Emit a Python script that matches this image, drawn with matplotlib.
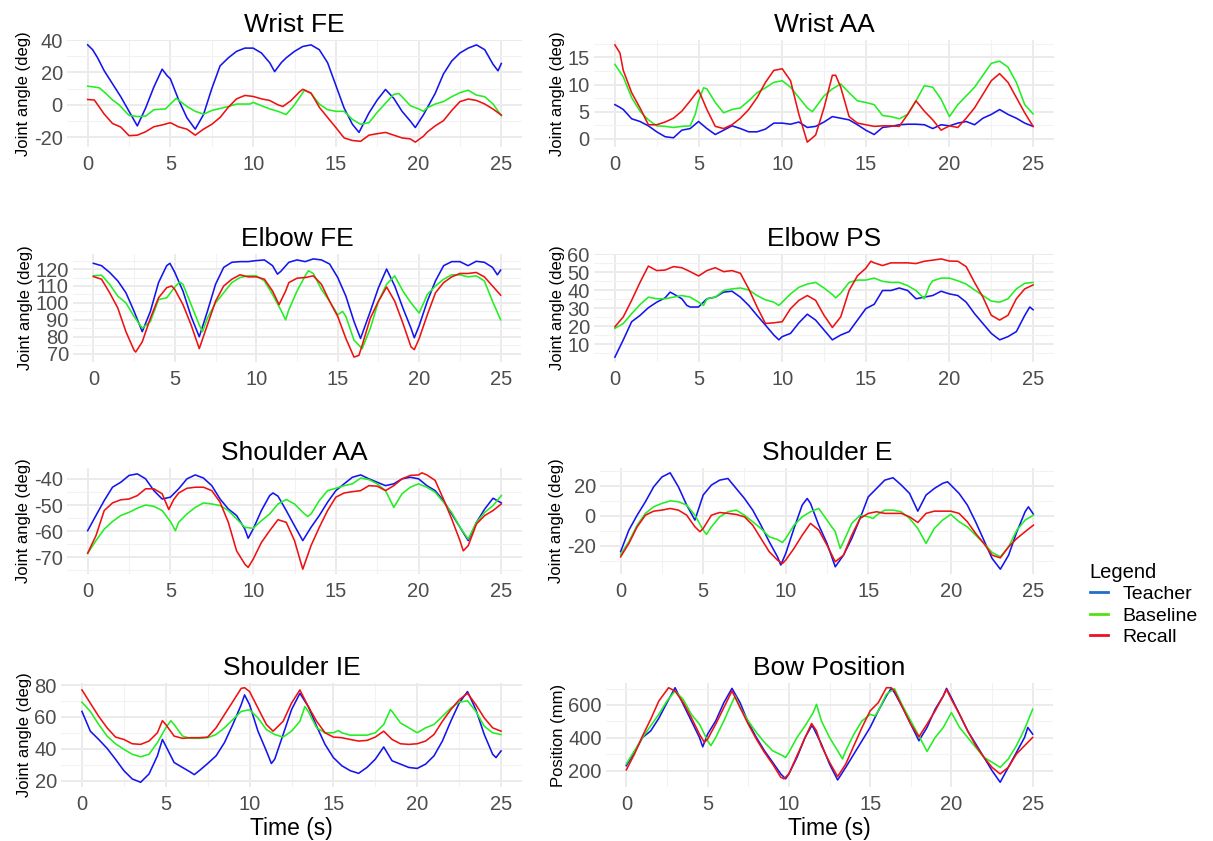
import matplotlib
matplotlib.use("Agg")
import matplotlib.pyplot as plt
from matplotlib.ticker import MultipleLocator
from matplotlib.lines import Line2D

plt.rcParams['font.family'] = ['Liberation Sans', 'DejaVu Sans']
plt.rcParams['axes.unicode_minus'] = False

# (time s, value) pairs
wrist_fe_teacher = [(0, 37), (0.3, 34), (0.6, 29), (1, 21), (1.5, 13), (2, 5), (2.5, -4), (3, -13), (3.5, -2),
                    (4, 11), (4.5, 22), (4.8, 18), (5, 16), (5.5, 3), (6, -8), (6.5, -15), (7, -6), (7.5, 10),
                    (8, 24), (8.5, 29), (9, 33), (9.5, 35), (10, 35), (10.5, 32), (11, 26), (11.3, 20.5),
                    (11.7, 26), (12, 29), (12.5, 33), (13, 36), (13.5, 37), (14, 34), (14.5, 26), (15, 12),
                    (15.5, -2), (16, -12), (16.4, -17), (17, -5), (17.5, 3), (18, 9.5), (18.5, 4), (19, -4),
                    (19.5, -10), (19.8, -14), (20.3, -6), (21, 7), (21.5, 19), (22, 27), (22.5, 32), (23, 35),
                    (23.5, 37), (24, 34), (24.5, 25), (24.8, 21), (25, 25.5)]
wrist_fe_baseline = [(0, 11.5), (0.4, 11), (0.7, 10.5), (1.1, 7), (1.5, 3), (1.9, 0), (2.5, -6.5), (3, -7.2),
                     (3.5, -7), (4, -3), (4.7, -2.5), (5.35, 4), (6, -1), (6.5, -4), (7, -5.7), (7.5, -3.5),
                     (8.5, -1), (9, 0.5), (9.8, 0.5), (10, 1.5), (10.5, -0.5), (11, -2.5), (11.5, -4), (12, -6),
                     (12.5, 0), (13.1, 9), (13.5, 7), (14, 0.5), (14.5, -3), (15, -4), (15.5, -4), (16, -9),
                     (16.5, -12), (17, -11), (17.5, -4.6), (18, 1), (18.5, 6.5), (18.8, 7), (19, 5), (19.5, -0.5),
                     (20, -2.5), (20.3, -4), (20.5, -2), (21, 0.5), (21.5, 2), (22, 5), (22.5, 7.5), (23, 9),
                     (23.5, 6), (24, 5), (24.5, 0.5), (25, -6.7)]
wrist_fe_recall = [(0, 3.3), (0.4, 3), (1, -5.7), (1.5, -11.5), (2, -13.7), (2.5, -19), (3, -18.7), (3.5, -16.6),
                   (4, -13.5), (4.5, -12.4), (5, -11), (5.5, -13.6), (6, -15), (6.5, -18.7), (7, -15), (7.5, -12),
                   (8, -7.8), (8.5, -1.5), (9, 3.7), (9.5, 5.8), (10, 5.2), (10.5, 3.7), (11, 2.7), (11.5, 0),
                   (11.8, -1), (12.3, 2.7), (12.8, 8), (13, 9.6), (13.5, 7.3), (14, -1.5), (14.5, -7.8), (15, -14),
                   (15.5, -20.4), (16, -22), (16.5, -22.5), (17, -18.7), (17.5, -17.8), (18, -17), (18.5, -18.7),
                   (19, -20.4), (19.5, -21), (19.8, -23), (20.3, -19.3), (20.5, -17), (21, -13), (21.5, -9.8),
                   (22, -3.5), (22.5, 2), (23, 3.6), (23.5, 2.7), (24, 0.5), (24.5, -2.6), (25, -6.3)]

wrist_aa_teacher = [(0, 6.3), (0.3, 5.8), (0.5, 5.4), (1, 3.7), (1.5, 3.2), (2, 2.4), (2.5, 1.3), (3, 0.4),
                    (3.5, 0.2), (4, 1.6), (4.5, 1.9), (5, 3.2), (5.5, 1.9), (6, 0.8), (6.5, 1.6), (7, 2.4),
                    (7.5, 1.9), (8, 1.3), (8.5, 1.3), (9, 1.8), (9.5, 2.9), (10, 2.9), (10.5, 2.7), (11, 3.1),
                    (11.5, 2.1), (12, 2.3), (12.5, 3.1), (13, 4.1), (13.5, 3.8), (14, 3.5), (14.5, 2.6), (15, 1.6),
                    (15.5, 0.8), (16, 2.1), (16.5, 2.3), (17, 2.6), (17.5, 2.7), (18, 2.7), (18.5, 2.6), (19, 1.9),
                    (19.5, 2.6), (20, 2.4), (20.5, 2.9), (21, 3.2), (21.5, 2.6), (22, 3.8), (22.5, 4.5), (23, 5.4),
                    (23.5, 4.5), (24, 3.8), (24.5, 2.9), (25, 2.3)]
wrist_aa_baseline = [(0, 13.7), (0.5, 11.4), (1, 7.6), (1.5, 5.1), (2, 3.5), (2.5, 2.4), (3, 2.3), (3.5, 2.1),
                     (4, 2.3), (4.5, 2.4), (4.8, 4.5), (5, 7), (5.3, 9.4), (5.5, 9.2), (6, 6.7), (6.5, 4.8),
                     (7, 5.4), (7.5, 5.7), (8, 7), (8.5, 8.5), (9, 9.4), (9.5, 10.4), (10, 10.7), (10.5, 9.5),
                     (11, 7.6), (11.5, 5.7), (11.8, 5), (12, 5.8), (12.5, 7.9), (13, 9.2), (13.5, 10.1), (14, 8.5),
                     (14.5, 7), (15, 6.7), (15.5, 6.3), (16, 4.3), (16.5, 4.1), (17, 3.7), (17.5, 4.5), (18, 7),
                     (18.5, 9.8), (19, 9.5), (19.5, 7.3), (20, 4.1), (20.5, 6.3), (21, 7.9), (21.5, 9.5),
                     (22, 11.7), (22.5, 13.9), (23, 14.3), (23.5, 13.2), (24, 10.4), (24.5, 6.3), (25, 4.6)]
wrist_aa_recall = [(0, 17.3), (0.3, 15.8), (0.5, 12.6), (1, 8.5), (1.5, 5.7), (2, 2.6), (2.5, 2.6), (3, 3.1),
                   (3.5, 3.8), (4, 5.1), (4.5, 7), (5, 9), (5.5, 5.4), (6, 2.3), (6.5, 1.9), (7, 2.6), (7.5, 3.8),
                   (8, 5.4), (8.5, 7.6), (9, 10.4), (9.5, 12.6), (10, 12.9), (10.5, 10.7), (11, 4.5), (11.5, -0.6),
                   (12, 0.7), (12.5, 5.7), (13, 11.7), (13.2, 11.7), (13.5, 9.5), (14, 4.1), (14.5, 2.9), (15, 2.6),
                   (15.5, 2.3), (16, 2.4), (16.5, 2.4), (17, 2.3), (17.5, 4.5), (18, 7), (18.5, 5.1), (19, 3.5),
                   (19.5, 1.6), (20, 2.4), (20.5, 2.1), (21, 3.8), (21.5, 5.7), (22, 8.2), (22.5, 10.7), (23, 12),
                   (23.5, 10.4), (24, 7.6), (24.5, 4.8), (25, 2.3)]

elbow_fe_teacher = [(0, 123.4), (0.5, 122), (1, 118), (1.5, 113), (2, 106), (2.5, 95), (3, 83), (3.5, 95),
                    (4, 112), (4.5, 122), (4.7, 123.4), (5, 118), (5.5, 107), (6, 92), (6.5, 80), (7, 95),
                    (7.5, 111), (8, 121), (8.5, 124), (9, 124.4), (9.5, 124.4), (10, 125), (10.5, 125.4), (11, 122),
                    (11.3, 117), (11.5, 118.6), (12, 124), (12.5, 125.4), (13, 124.4), (13.5, 126), (14, 125.4),
                    (14.5, 123), (15, 115), (15.5, 104), (16, 89), (16.4, 79), (17, 95), (17.5, 109), (18, 120),
                    (18.5, 110), (19, 97), (19.5, 85), (19.7, 79.4), (20, 86.6), (20.5, 101), (21, 113), (21.5, 122),
                    (22, 124.4), (22.5, 124.4), (23, 122), (23.5, 124.6), (24, 124), (24.5, 121), (24.8, 116.6),
                    (25, 119.4)]
elbow_fe_baseline = [(0, 116), (0.5, 116.4), (1, 111), (1.5, 104), (2, 100), (2.5, 92), (3, 85), (3.5, 89),
                     (4, 102), (4.5, 103), (5, 109.4), (5.3, 112.4), (5.5, 111), (6, 99), (6.5, 87), (6.7, 83),
                     (7, 91), (7.5, 100), (8, 106), (8.5, 112), (9, 115), (9.5, 116), (10, 116), (10.5, 113),
                     (11, 105), (11.5, 96), (11.8, 90), (12, 96), (12.5, 107), (13, 116), (13.2, 119), (13.5, 117.4),
                     (14, 108), (14.5, 101), (15, 93), (15.3, 95), (15.5, 92), (16, 78), (16.5, 73), (17, 85),
                     (17.5, 101), (18, 111), (18.5, 116), (19, 107), (19.5, 100), (20, 94), (20.5, 105), (21, 110),
                     (21.5, 114), (22, 116.6), (22.5, 116.6), (23, 115.4), (23.5, 116), (24, 113), (24.5, 101),
                     (25, 90)]
elbow_fe_recall = [(0, 115.6), (0.5, 114), (1, 106), (1.5, 97), (2, 83), (2.5, 72), (2.6, 71), (3, 77), (3.5, 91),
                   (4, 103), (4.5, 109), (4.8, 110), (5, 108), (5.5, 99), (6, 87), (6.5, 73), (7, 87), (7.5, 101),
                   (8, 110), (8.5, 114), (9, 116.6), (9.5, 115.4), (10, 115.4), (10.5, 114), (11, 107), (11.4, 99),
                   (11.8, 107), (12, 112), (12.5, 114.6), (13, 115), (13.5, 116), (14, 111), (14.5, 101), (15, 92),
                   (15.5, 79), (16, 68), (16.3, 69), (16.5, 75), (17, 91), (17.5, 101), (18, 109.4), (18.5, 101),
                   (19, 88), (19.5, 74), (19.7, 72.4), (20, 79), (20.5, 93), (21, 106), (21.5, 112), (22, 115.4),
                   (22.5, 117.4), (23, 117.4), (23.5, 118), (24, 115.4), (24.5, 110), (25, 104.6)]

elbow_ps_teacher = [(0, 2.8), (0.5, 12.4), (1, 22.5), (1.5, 26), (2, 30.3), (2.5, 33.4), (3, 35.8), (3.3, 39),
                    (3.5, 38), (4, 35.3), (4.3, 31.6), (4.5, 30.7), (5, 30.7), (5.5, 35.3), (6, 36.2), (6.5, 39),
                    (7, 39.5), (7.5, 36.2), (8, 31.6), (8.5, 26), (9, 20.6), (9.5, 15.1), (9.8, 12.4), (10, 14.2),
                    (10.5, 16), (11, 21.9), (11.5, 26.7), (12, 23.4), (12.5, 17.9), (13, 12.4), (13.5, 15.1),
                    (14, 17), (14.5, 23.4), (15, 29.8), (15.5, 32.2), (16, 39.9), (16.5, 39.9), (17, 41.3),
                    (17.5, 39.9), (18, 35.3), (18.5, 36.2), (19, 37.1), (19.5, 39.5), (20, 38), (20.5, 37.1),
                    (21, 33.4), (21.5, 27), (22, 21.5), (22.5, 16), (23, 12.4), (23.5, 14.2), (24, 17), (24.5, 26),
                    (24.8, 30.7), (25, 29.2)]
elbow_ps_baseline = [(0, 18.8), (0.5, 21.5), (1, 27), (1.5, 32), (2, 36.2), (2.5, 35.3), (3, 35.3), (3.5, 36.2),
                     (4, 37.1), (4.5, 36.2), (5, 33.4), (5.3, 31.6), (5.5, 35.3), (6, 36.2), (6.5, 39.9), (7, 40.8),
                     (7.5, 41.3), (8, 40.2), (8.5, 37.1), (9, 34.7), (9.5, 33.4), (9.8, 31.6), (10, 33.4),
                     (10.5, 38), (11, 41.7), (11.5, 43.5), (12, 44.4), (12.5, 41.3), (13, 37.7), (13.2, 35.8),
                     (13.5, 38.4), (14, 44.4), (14.5, 45.7), (15, 45.7), (15.5, 46.8), (16, 45), (16.5, 44.4),
                     (17, 44.4), (17.5, 42.6), (18, 39.9), (18.5, 35.3), (18.8, 42.6), (19, 45.3), (19.5, 46.8),
                     (20, 46.8), (20.5, 45.3), (21, 43.5), (21.5, 40.2), (22, 37.1), (22.5, 34), (23, 33.4),
                     (23.5, 35.3), (24, 40.8), (24.5, 43.9), (25, 44.4)]
elbow_ps_recall = [(0, 19.7), (0.5, 25.2), (1, 34.4), (1.5, 44.4), (2, 53.5), (2.5, 51), (3, 51.3), (3.5, 53.2),
                   (4, 52.6), (4.5, 50.4), (5, 48), (5.5, 51), (6, 52.6), (6.5, 50.4), (7, 51), (7.5, 49.5),
                   (8, 40.8), (8.5, 30.7), (9, 21.5), (9.5, 21.9), (10, 22.5), (10.5, 29.8), (11, 34.4), (11.5, 37.1),
                   (12, 34.4), (12.5, 26.1), (13, 19.3), (13.5, 25.2), (14, 39.9), (14.5, 48.1), (15, 52.3),
                   (15.3, 56.2), (15.5, 55.3), (16, 53.8), (16.5, 55.3), (17, 55.3), (17.5, 55.3), (18, 54.9),
                   (18.5, 56.2), (19, 56.8), (19.5, 57.5), (20, 56.3), (20.5, 56.2), (21, 53.2), (21.5, 44.4),
                   (22, 36.2), (22.5, 26.1), (23, 23.4), (23.5, 26.1), (24, 35.3), (24.5, 40.8), (25, 43)]

shoulder_aa_teacher = [(0, -59.8), (0.5, -54), (1, -48.3), (1.5, -43.2), (2, -41.3), (2.5, -38.7), (3, -38.1),
                       (3.5, -40), (4, -44.5), (4.5, -47.7), (5, -47), (5.5, -43.8), (6, -40), (6.5, -38.5),
                       (7, -39.7), (7.5, -42.6), (8, -47.7), (8.5, -51.5), (9, -54), (9.5, -59.2), (9.7, -62.7),
                       (10, -59.2), (10.5, -52.1), (11, -46.4), (11.2, -45.4), (11.5, -46.6), (12, -52.1),
                       (12.5, -57.9), (13, -63.6), (13.5, -58.5), (14, -54), (14.5, -48.9), (15, -44.5),
                       (15.5, -41.9), (16, -39.4), (16.5, -38.5), (17, -40), (17.5, -41.3), (18, -42.6),
                       (18.5, -41.9), (19, -40), (19.5, -39.4), (20, -40), (20.5, -42.6), (21, -44.5), (21.5, -48.3),
                       (22, -53.4), (22.5, -58.5), (23, -63.6), (23.5, -56.6), (24, -51.5), (24.5, -47.4),
                       (25, -49.2)]
shoulder_aa_baseline = [(0, -68.4), (0.5, -63.6), (1, -59.2), (1.5, -56.3), (2, -54), (2.5, -52.8), (3, -51.2),
                        (3.5, -50), (4, -50.5), (4.5, -52.1), (5, -56.3), (5.3, -59.8), (5.5, -56.6), (6, -53.4),
                        (6.5, -50.9), (7, -49.2), (7.5, -49.6), (8, -50.2), (8.5, -52.1), (9, -55.3), (9.5, -58.5),
                        (10, -58.9), (10.5, -56), (11, -53.4), (11.5, -49.6), (12, -47.9), (12.5, -49.6),
                        (13, -52.8), (13.3, -54.4), (13.5, -53.4), (14, -48.3), (14.5, -44.5), (15, -43.6),
                        (15.5, -42.6), (16, -41.9), (16.5, -39.7), (17, -40.3), (17.5, -41.9), (18, -44.5),
                        (18.5, -50.9), (19, -45.7), (19.5, -43.2), (20, -41.9), (20.5, -43.2), (21, -45.1),
                        (21.5, -48.9), (22, -52.8), (22.5, -58.5), (23, -63), (23.5, -56.6), (24, -52.8),
                        (24.5, -50.2), (25, -46.4)]
shoulder_aa_recall = [(0, -68.4), (0.5, -61.7), (1, -52.1), (1.5, -49.2), (2, -48), (2.5, -47.7), (3, -46.4),
                      (3.5, -43.8), (4, -43.8), (4.5, -45.7), (4.9, -51.7), (5.2, -47.9), (5.5, -45.4), (6, -43.6),
                      (6.5, -43.2), (7, -43.2), (7.5, -44.5), (8, -48.9), (8.5, -56.6), (9, -67.5), (9.5, -72.6),
                      (9.7, -73.8), (10, -70.7), (10.5, -64.3), (11, -59.8), (11.5, -55.6), (12, -56.6),
                      (12.5, -63.6), (13, -74.5), (13.5, -65.5), (14, -58.5), (14.5, -52.1), (15, -47),
                      (15.5, -45.4), (16, -44.9), (16.5, -44.5), (17, -42.6), (17.5, -42.8), (18, -44.5),
                      (18.5, -42.6), (19, -40), (19.5, -38.7), (20, -38.5), (20.2, -37.7), (20.5, -38.5),
                      (21, -40.6), (21.5, -47.7), (22, -55.3), (22.5, -63.6), (22.7, -67.5), (23, -65.5),
                      (23.5, -57.2), (24, -54), (24.5, -52.1), (25, -49.6)]

shoulder_e_teacher = [(0, -24), (0.5, -9.6), (1, 0.4), (1.5, 9.4), (2, 19.4), (2.5, 26), (3, 28.8), (3.5, 19.4),
                      (4, 7.2), (4.5, -2.9), (5, 13.9), (5.5, 20.6), (6, 23.9), (6.5, 25), (7, 18.3), (7.5, 11.6),
                      (8, 3.8), (8.5, -6.3), (9, -17.4), (9.5, -27.5), (9.7, -33), (10, -25.3), (10.5, -8.5),
                      (11, 7.2), (11.3, 11.6), (11.5, 8.3), (12, -6.3), (12.5, -18.5), (13, -34.2), (13.5, -26.4),
                      (14, -15.2), (14.5, -1.8), (15, 12.7), (15.5, 18.3), (16, 23.9), (16.5, 25.5), (17, 20.6),
                      (17.5, 15), (18, 3.1), (18.5, 13.9), (19, 18.3), (19.5, 21.7), (19.8, 22.8), (20, 20.6),
                      (20.5, 15), (21, 7.2), (21.5, -4), (22, -16.3), (22.5, -28.6), (23, -35.8), (23.5, -26.4),
                      (24, -10.7), (24.5, 2.7), (24.7, 6), (25, 1.1)]
shoulder_e_baseline = [(0, -26), (0.5, -17.4), (1, -6.3), (1.5, 1.6), (2, 6), (2.5, 8.3), (3, 10), (3.5, 9.4),
                       (4, 7.2), (4.5, 0.4), (5, -9.6), (5.2, -12.5), (5.5, -7.4), (6, -0.7), (6.5, 2.7), (7, 3.8),
                       (7.5, 0.4), (8, -4), (8.5, -8.5), (9, -14.1), (9.5, -15.9), (9.8, -17.9), (10, -15.2),
                       (10.5, -6.3), (11, -0.7), (11.5, 2.7), (12, 4.9), (12.5, -2.9), (13, -10.7), (13.3, -21.9),
                       (13.5, -17.4), (14, -5.1), (14.5, 0.4), (15, -0.7), (15.3, -1.8), (15.5, 0.4), (16, 3.8),
                       (16.5, 3.8), (17, 2.7), (17.5, -1.8), (18, -8.5), (18.5, -18.5), (19, -8.5), (19.5, -2.9),
                       (20, 0.9), (20.5, -4), (21, -7.4), (21.5, -13), (22, -18.5), (22.5, -24.6), (23, -27.5),
                       (23.5, -20.8), (24, -9.6), (24.5, -2.9), (25, 0.4)]
shoulder_e_recall = [(0, -27.5), (0.5, -18.5), (1, -7.4), (1.5, 0.4), (2, 3.1), (2.5, 3.8), (3, 4.9), (3.5, 3.8),
                     (4, 0.4), (4.5, -7.4), (4.8, -10.7), (5, -8.5), (5.5, 0.4), (6, 2.2), (6.5, 1.6), (7, 0.9),
                     (7.5, -0.7), (8, -6.3), (8.5, -15.2), (9, -24.1), (9.5, -29.7), (9.8, -32), (10, -29.7),
                     (10.5, -21.9), (11, -13), (11.5, -5.1), (12, -9.6), (12.5, -19.7), (13, -30.8), (13.5, -26.4),
                     (14, -13), (14.5, -1.8), (15, 1.6), (15.5, 2.7), (16, 1.6), (16.5, 1.6), (17, 1.6),
                     (17.5, -0.7), (18, -4.5), (18.5, 1.6), (19, 3.1), (19.5, 3.1), (20, 3.1), (20.5, 1.6), (21, -4),
                     (21.5, -11.8), (22, -18.5), (22.5, -26.4), (23, -28.2), (23.5, -20.8), (24, -15.2),
                     (24.5, -10.7), (25, -6.3)]

shoulder_ie_teacher = [(0, 63.4), (0.5, 51), (1, 45.8), (1.5, 40.2), (2, 33.4), (2.5, 26.2), (3, 21), (3.5, 18.9),
                       (4, 24.1), (4.5, 35.5), (4.8, 45.8), (5, 41.7), (5.5, 31.3), (6, 28.2), (6.5, 25.1),
                       (6.7, 23.7), (7, 26.2), (7.5, 30.7), (8, 35.5), (8.5, 43.8), (9, 55.2), (9.5, 67.6),
                       (9.7, 73.8), (10, 67.6), (10.5, 51), (11, 38.6), (11.3, 30.7), (11.5, 33.4), (12, 48.9),
                       (12.5, 64.5), (13, 74.8), (13.5, 66.5), (14, 54.1), (14.5, 42.7), (15, 34.4), (15.5, 29.3),
                       (16, 26.2), (16.5, 24.5), (17, 28.2), (17.5, 33.4), (18, 41.1), (18.5, 32.4), (19, 30.3),
                       (19.5, 28.2), (20, 27.6), (20.5, 30.3), (21, 35.5), (21.5, 44.8), (22, 57.2), (22.5, 68.6),
                       (23, 75.9), (23.5, 64.5), (24, 48.9), (24.5, 36.5), (24.7, 34.4), (25, 38.6)]
shoulder_ie_baseline = [(0, 69.2), (0.5, 63.4), (1, 55.2), (1.5, 47.9), (2, 43.1), (2.5, 39.6), (3, 36.5),
                        (3.5, 34.9), (4, 36.5), (4.5, 43.8), (5, 53.1), (5.3, 57.6), (5.5, 55.2), (6, 47.9),
                        (6.5, 46.5), (7, 46.5), (7.5, 46.9), (8, 48.9), (8.5, 53.1), (9, 58.3), (9.5, 63.4),
                        (10, 64.5), (10.5, 59.3), (11, 52), (11.5, 48.9), (12, 47.3), (12.5, 51), (13, 57.2),
                        (13.3, 66.5), (13.5, 63.4), (14, 53.1), (14.5, 50), (15, 50), (15.3, 51.4), (15.5, 50),
                        (16, 48.5), (16.5, 48.5), (17, 48.5), (17.5, 50), (18, 55.2), (18.4, 64.5), (18.5, 63.4),
                        (19, 56.2), (19.5, 53.1), (20, 50), (20.5, 53.1), (21, 55.2), (21.5, 60.3), (22, 65.5),
                        (22.5, 69.2), (23, 70.1), (23.5, 63.4), (24, 54.1), (24.5, 50), (25, 48.9)]
shoulder_ie_recall = [(0, 76.9), (0.5, 68.6), (1, 60.3), (1.5, 53.1), (2, 47.3), (2.5, 45.8), (3, 43.1),
                      (3.5, 42.7), (4, 44.8), (4.5, 50), (4.8, 57.6), (5, 55.2), (5.5, 47.9), (6, 46.5), (6.5, 46.9),
                      (7, 46.9), (7.5, 47.3), (8, 53.1), (8.5, 61.4), (9, 69.6), (9.5, 77.9), (9.7, 78.3),
                      (10, 75.9), (10.5, 65.5), (11, 55.2), (11.4, 51), (12, 57.2), (12.5, 68.6), (13, 76.9),
                      (13.5, 66.5), (14, 57.2), (14.5, 50), (15, 47.3), (15.5, 46.9), (16, 45.8), (16.5, 44.8),
                      (17, 45.2), (17.5, 47.3), (18, 51), (18.5, 45.8), (19, 43.1), (19.5, 42.7), (20, 43.1),
                      (20.5, 44.8), (21, 48.9), (21.5, 57.2), (22, 64.5), (22.5, 70.7), (23, 74.8), (23.5, 67.6),
                      (24, 59.3), (24.5, 53.1), (25, 51)]

bow_teacher = [(0, 230), (0.5, 311), (1, 402), (1.5, 442), (2, 519), (2.5, 614), (3, 705), (3.5, 604), (4, 503),
               (4.5, 402), (4.7, 345), (5, 422), (5.5, 503), (6, 614), (6.5, 701), (7, 614), (7.5, 493), (8, 402),
               (8.5, 321), (9, 251), (9.5, 180), (9.8, 150), (10, 180), (10.5, 281), (11, 402), (11.4, 473),
               (11.5, 463), (12, 362), (12.5, 240), (13, 143), (13.5, 220), (14, 301), (14.5, 382), (15, 463),
               (15.5, 564), (16, 655), (16.3, 701), (16.5, 675), (17, 584), (17.5, 483), (18, 382), (18.5, 463),
               (19, 574), (19.5, 655), (19.7, 701), (20, 644), (20.5, 543), (21, 442), (21.5, 362), (22, 281),
               (22.5, 200), (23, 129), (23.5, 220), (24, 311), (24.5, 402), (24.7, 463), (25, 422)]
bow_baseline = [(0, 240), (0.5, 321), (1, 402), (1.5, 473), (2, 543), (2.5, 624), (3, 685), (3.5, 634), (4, 543),
                (4.5, 483), (5, 382), (5.2, 352), (5.5, 402), (6, 503), (6.5, 614), (6.7, 655), (7, 584), (7.5, 503),
                (8, 432), (8.5, 372), (9, 321), (9.5, 297), (9.8, 281), (10, 311), (10.5, 402), (11, 473),
                (11.5, 554), (11.7, 604), (12, 503), (12.5, 402), (13, 321), (13.3, 271), (13.5, 321), (14, 422),
                (14.5, 503), (15, 543), (15.3, 533), (15.5, 564), (16, 665), (16.5, 699), (17, 594), (17.5, 503),
                (18, 412), (18.5, 317), (19, 402), (19.5, 463), (20, 554), (20.5, 463), (21, 402), (21.5, 341),
                (22, 281), (22.5, 251), (23, 220), (23.5, 271), (24, 352), (24.5, 453), (25, 574)]
bow_recall = [(0, 204), (0.5, 301), (1, 412), (1.5, 513), (2, 624), (2.6, 705), (3, 685), (3.5, 614), (4, 523),
              (4.5, 422), (4.8, 372), (5, 392), (5.5, 483), (6, 584), (6.5, 685), (7, 584), (7.5, 483), (8, 392),
              (8.5, 311), (9, 240), (9.5, 160), (9.7, 150), (10, 180), (10.5, 291), (11, 402), (11.4, 487),
              (11.7, 442), (12, 352), (12.5, 251), (13, 164), (13.5, 240), (14, 352), (14.5, 463), (15, 564),
              (15.5, 614), (16, 705), (16.3, 705), (16.5, 685), (17, 584), (17.5, 483), (18, 406), (18.5, 483),
              (19, 564), (19.5, 655), (19.7, 695), (20, 634), (20.5, 543), (21, 442), (21.5, 352), (22, 281),
              (22.5, 220), (23, 180), (23.5, 220), (24, 301), (24.5, 352), (25, 402)]

labels = ["Teacher", "Baseline", "Recall"]
line_colors = ["#1414EE", "#22EE22", "#EE1111"]
legend_colors = ["#1F6FCB", "#55E010", "#EE1122"]

W, H = 1213, 841
fig = plt.figure(figsize=(W / 100, H / 100), dpi=100)
fig.patch.set_facecolor("white")

# title, y label, series, y tick step, panel box in pixels (left, top, right, bottom)
panels = [
    ("Wrist FE", "Joint angle (deg)", [wrist_fe_teacher, wrist_fe_baseline, wrist_fe_recall], 20, (67, 40, 522, 147)),
    ("Wrist AA", "Joint angle (deg)", [wrist_aa_teacher, wrist_aa_baseline, wrist_aa_recall], 5, (594, 40, 1054, 147)),
    ("Elbow FE", "Joint angle (deg)", [elbow_fe_teacher, elbow_fe_baseline, elbow_fe_recall], 10, (73, 254, 521, 362)),
    ("Elbow PS", "Joint angle (deg)", [elbow_ps_teacher, elbow_ps_baseline, elbow_ps_recall], 10, (594, 254, 1054, 362)),
    ("Shoulder AA", "Joint angle (deg)", [shoulder_aa_teacher, shoulder_aa_baseline, shoulder_aa_recall], 10, (67, 468, 522, 574)),
    ("Shoulder E", "Joint angle (deg)", [shoulder_e_teacher, shoulder_e_baseline, shoulder_e_recall], 20, (600, 468, 1054, 574)),
    ("Shoulder IE", "Joint angle (deg)", [shoulder_ie_teacher, shoulder_ie_baseline, shoulder_ie_recall], 20, (61, 683, 522, 787)),
    ("Bow Position", "Position (mm)", [bow_teacher, bow_baseline, bow_recall], 200, (606, 683, 1053, 787)),
]

for i, (title, ylabel, series, step, box) in enumerate(panels):
    l, t, r, b = box
    ax = fig.add_axes([l / W, 1 - b / H, (r - l) / W, (b - t) / H])
    for pts, c in zip(series, line_colors):
        xs = [p[0] for p in pts]
        ys = [p[1] for p in pts]
        ax.plot(xs, ys, color=c, lw=1.15)
    ax.margins(x=0.05, y=0.05)
    ax.xaxis.set_major_locator(MultipleLocator(5))
    ax.xaxis.set_minor_locator(MultipleLocator(2.5))
    ax.yaxis.set_major_locator(MultipleLocator(step))
    ax.yaxis.set_minor_locator(MultipleLocator(step / 2))
    ax.grid(which="major", color="#EBEBEB", lw=1.4)
    ax.grid(which="minor", color="#F2F2F2", lw=0.8)
    ax.set_axisbelow(True)
    for s in ax.spines.values():
        s.set_visible(False)
    ax.tick_params(which="both", length=0, labelsize=14.5, labelcolor="#4D4D4D")
    ax.tick_params(axis="x", pad=6)
    ax.tick_params(axis="y", pad=3)
    ax.set_title(title, fontsize=19, pad=6)
    ax.set_ylabel(ylabel, fontsize=12, labelpad=2)
    if i >= 6:
        ax.set_xlabel("Time (s)", fontsize=16.5, labelpad=2)

handles = [Line2D([], [], color=c, lw=2) for c in legend_colors]
leg = fig.legend(handles, labels, title="Legend", loc="upper left",
                 bbox_to_anchor=(1082 / W, 1 - 555 / H), frameon=False,
                 fontsize=14, title_fontsize=14.5, handlelength=0.95,
                 handletextpad=0.75, labelspacing=0.2, borderaxespad=0)
leg._legend_box.align = "left"

fig.savefig("out.png", dpi=100, facecolor="white")
